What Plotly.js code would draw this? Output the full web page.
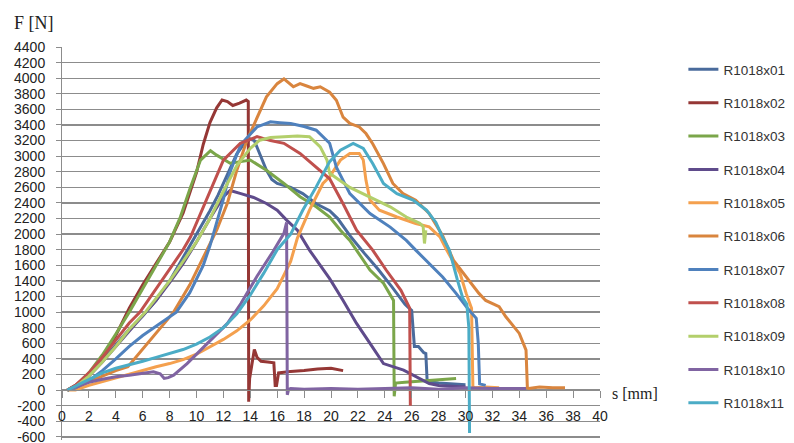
<!DOCTYPE html>
<html>
<head>
<meta charset="utf-8">
<script src="https://cdn.plot.ly/plotly-3.0.1.min.js"></script>
<style>html,body{margin:0;padding:0;background:#fff;}#chart{width:794px;height:443px;}</style>
</head>
<body>
<div id="chart"></div>
<script>
// ---- data (s [mm], F [N]) ----
const seriesNames = ["R1018x01","R1018x02","R1018x03","R1018x04","R1018x05","R1018x06","R1018x07","R1018x08","R1018x09","R1018x10","R1018x11"];

const s01 = [0.4,1,2,3,4,5,6,7,8,9,10,11,11.6,12,12.5,13,13.5,14,14.3,14.7,15.2,15.6,16,17,17.9,18.9,19.9,20.5,21.5,22.5,23.5,24.5,25.5,26.0,26.1,26.2,26.5,26.9,27.05,27.15,28,29,30];
const f01 = [0,50,200,380,580,780,950,1150,1400,1700,2000,2300,2500,2650,2850,3030,3150,3220,3200,3030,2820,2700,2650,2600,2520,2390,2300,2200,1960,1750,1550,1330,1100,1020,700,560,560,480,470,110,90,80,70];

const s02 = [0.4,1,2,3,4,5,6,7,8,9,10,10.5,11,11.5,11.9,12.3,12.7,13.2,13.7,13.85,13.88,13.95,14.1,14.3,14.5,14.8,15.3,15.75,15.85,15.95,16.1,17,18,19,20,20.5,20.9];
const f02 = [0,60,200,400,700,1050,1350,1620,1900,2270,2790,3150,3430,3620,3720,3700,3650,3680,3720,3700,-150,150,300,520,420,370,360,350,60,60,220,240,250,270,280,265,250];

const s03 = [0.4,1,2,3,4,5,6,7,8,8.8,9.56,10.3,11.04,11.5,12.5,13.3,14,15.2,16.5,17.7,18.9,19.9,20.7,21.4,21.9,22.9,23.9,24.5,24.65,24.7,24.8,25.5,27,28.5,29.3];
const f03 = [0,50,220,450,720,1000,1300,1600,1900,2220,2606,2950,3070,3013,2910,2930,2950,2820,2650,2480,2350,2220,2050,1920,1795,1540,1370,1200,1150,-80,90,100,120,140,150];

const s04 = [0.4,1,2,3,4,5,6,7,8,9,10,11,12,12.5,13.3,14.25,15.2,16,16.7,17.5,18.4,19.9,20.9,21.9,22.9,23.9,25.4,26.3,27.3,28,29,30];
const f04 = [0,40,180,360,560,760,950,1150,1380,1620,1900,2200,2480,2560,2520,2470,2393,2307,2180,2050,1795,1430,1150,855,600,340,256,170,85,60,50,40];

const s05 = [0.4,1,2,3,4,5,6,7,8,9,10,11,12,13,14,15,16,17,17.5,18.4,19.4,19.9,20.7,21.4,22.1,22.4,22.6,22.9,23.6,24.9,26.3,27.3,28.1,28.6,29.6,30.05,30.45,30.55,30.7,31.5,32.5];
const f05 = [0,0,60,110,160,210,255,300,340,390,460,550,650,760,900,1080,1300,1650,1950,2307,2650,2735,2950,3034,3034,2950,2690,2436,2307,2220,2136,2094,1965,1795,1496,1240,1050,40,30,40,30];

const s06 = [0.4,1,2,3,4,4.9,6.35,7.3,8.3,9.5,10.5,11.5,12.3,13.0,13.75,14.5,15.2,16,16.5,17.2,17.7,18.2,18.7,19.2,19.9,20.4,20.9,21.4,22.1,22.6,23.1,23.9,24.6,25.35,26.3,27.3,28.3,29.1,30.05,31.0,31.5,32.5,33,34,34.5,34.6,34.7,35.5,36.5,37.4];
const f06 = [0,30,110,180,250,300,600,800,1000,1350,1700,2050,2400,2820,3205,3500,3760,3930,3990,3890,3930,3900,3870,3890,3820,3718,3500,3420,3375,3290,3160,2905,2650,2520,2436,2265,1980,1667,1453,1240,1150,1070,940,727,513,30,20,40,30,30];

const s07 = [0.4,1,2,3,4,5,6,7,8,8.5,9.5,10.5,11,12,12.5,13.3,14.5,15.5,16.2,17,18,18.9,19.9,20.4,21.4,22.9,24.4,25.6,26.3,27.3,28.3,29.3,30.05,30.8,30.95,31.05,31.5];
const f07 = [0,30,120,250,400,560,700,820,950,1000,1250,1600,1850,2450,2800,3150,3375,3440,3430,3420,3380,3333,3165,2860,2520,2265,2090,1920,1795,1625,1450,1240,1070,920,600,80,60];

const s08 = [0.4,1,2,3,4,5,5.8,7,8,9,9.56,10.8,12.0,13.26,14.5,15.5,16.5,17.7,18.9,19.9,20.9,21.9,23.1,24.1,25.2,25.7,25.85,25.9];
const f08 = [0,60,220,420,640,860,1000,1300,1550,1800,1966,2478,2950,3165,3250,3200,3165,3035,2860,2710,2390,2050,1795,1540,1280,1110,1050,-200];

const s09 = [0.4,1,2,3,4,5,6.2,8,10,11,12,13,14,14.7,15.5,16.5,17.5,18.4,19.2,19.7,19.9,21.4,22.9,24.4,25.6,26.6,26.85,26.95,27.05];
const f09 = [0,40,180,360,560,780,1000,1400,1900,2200,2550,2880,3100,3205,3240,3250,3260,3250,3120,2950,2780,2600,2480,2350,2220,2140,2100,1880,2050];

const s10 = [0.4,1,2,3,4,5,6,6.8,7.3,7.6,7.9,8.3,9.3,10.8,12.3,13.3,14.5,15.7,16.5,16.7,16.75,16.85,17,18,20,22,24,26,28,30,32,34.5];
const f10 = [0,40,100,140,170,190,215,235,210,150,160,192,340,600,855,1110,1460,1780,2010,2150,-60,10,20,10,20,10,20,30,10,30,20,20];

const s11 = [0.4,1,2,3,4,5,6,7,8,9,10,11,12,13,14,15,16,17,17.9,18.9,19.9,20.7,21.65,22.4,23.1,23.9,24.9,26.1,27.1,27.8,28.3,28.8,29.4,29.8,30.1,30.25,30.3];
const f11 = [0,50,140,220,280,330,370,420,470,520,590,680,800,980,1220,1500,1800,2000,2307,2606,2930,3077,3163,3098,2905,2650,2520,2436,2307,2150,1960,1795,1410,1180,1100,800,-550];

const seriesS = [s01,s02,s03,s04,s05,s06,s07,s08,s09,s10,s11];
const seriesF = [f01,f02,f03,f04,f05,f06,f07,f08,f09,f10,f11];
const seriesColors = ["#4A6B9C","#953735","#7BA64A","#5F4B8B","#F4A04E","#D9853E","#4F81BD","#C0504D","#B3CF6B","#8064A2","#4BACC6"];

const xTickVals = [0,2,4,6,8,10,12,14,16,18,20,22,24,26,28,30,32,34,36,38,40];
const yTickVals = [-600,-400,-200,0,200,400,600,800,1000,1200,1400,1600,1800,2000,2200,2400,2600,2800,3000,3200,3400,3600,3800,4000,4200,4400];
const yTickText = yTickVals.map(v => String(v));

// ---- traces ----
const traces = seriesNames.map((name, i) => ({
  type: "scatter", mode: "lines", name: name, legendgroup: name,
  x: seriesS[i], y: seriesF[i],
  line: {color: seriesColors[i], width: 3}
}));

const gridC = "#8C8C8C";
const yMin = -640, yMax = 4400;
const zeroFrac = (0 - yMin) / (yMax - yMin);
const layout = {
  width: 794, height: 443,
  margin: {l: 62, r: 192, t: 47, b: 3},
  paper_bgcolor: "#fff", plot_bgcolor: "#fff",
  font: {family: "Liberation Sans, Arial, sans-serif", size: 14, color: "#222"},
  showlegend: true,
  legend: {
    x: 1.155, xanchor: "left", y: 0.982, yanchor: "top",
    font: {family: "Liberation Sans, Arial, sans-serif", size: 13.5, color: "#333"},
    tracegroupgap: 12.8, bgcolor: "rgba(0,0,0,0)", maxheight: 430
  },
  xaxis: {
    range: [0, 40], tickvals: xTickVals, ticktext: xTickVals.map(String),
    anchor: "free", position: zeroFrac,
    showgrid: false, zeroline: false,
    showline: true, linecolor: gridC, linewidth: 1,
    ticks: "outside", ticklen: 7, tickcolor: gridC, tickwidth: 1,
    ticklabelstandoff: 6, ticklabeloverflow: "allow",
    tickfont: {size: 14, color: "#222"}
  },
  yaxis: {
    range: [yMin, yMax], tickvals: yTickVals, ticktext: yTickText,
    showgrid: true, gridcolor: gridC, gridwidth: 1.3,
    zeroline: false,
    showline: true, linecolor: gridC, linewidth: 1,
    ticks: "outside", ticklen: 5, tickcolor: gridC, tickwidth: 1,
    ticklabelstandoff: 8, ticklabeloverflow: "allow",
    tickfont: {size: 14, color: "#222"}
  },
  annotations: [
    {text: "F [N]", xref: "paper", yref: "paper", x: -0.093, y: 1.061, xanchor: "left", yanchor: "middle",
     showarrow: false, font: {family: "Liberation Serif, Times New Roman, serif", size: 18, color: "#222"}},
    {text: "s [mm]", xref: "paper", yref: "paper", x: 1.018, y: zeroFrac - 0.008, xanchor: "left", yanchor: "middle",
     showarrow: false, font: {family: "Liberation Serif, Times New Roman, serif", size: 16, color: "#222"}}
  ]
};

Plotly.newPlot("chart", traces, layout, {displayModeBar: false, staticPlot: true});
</script>
</body>
</html>
